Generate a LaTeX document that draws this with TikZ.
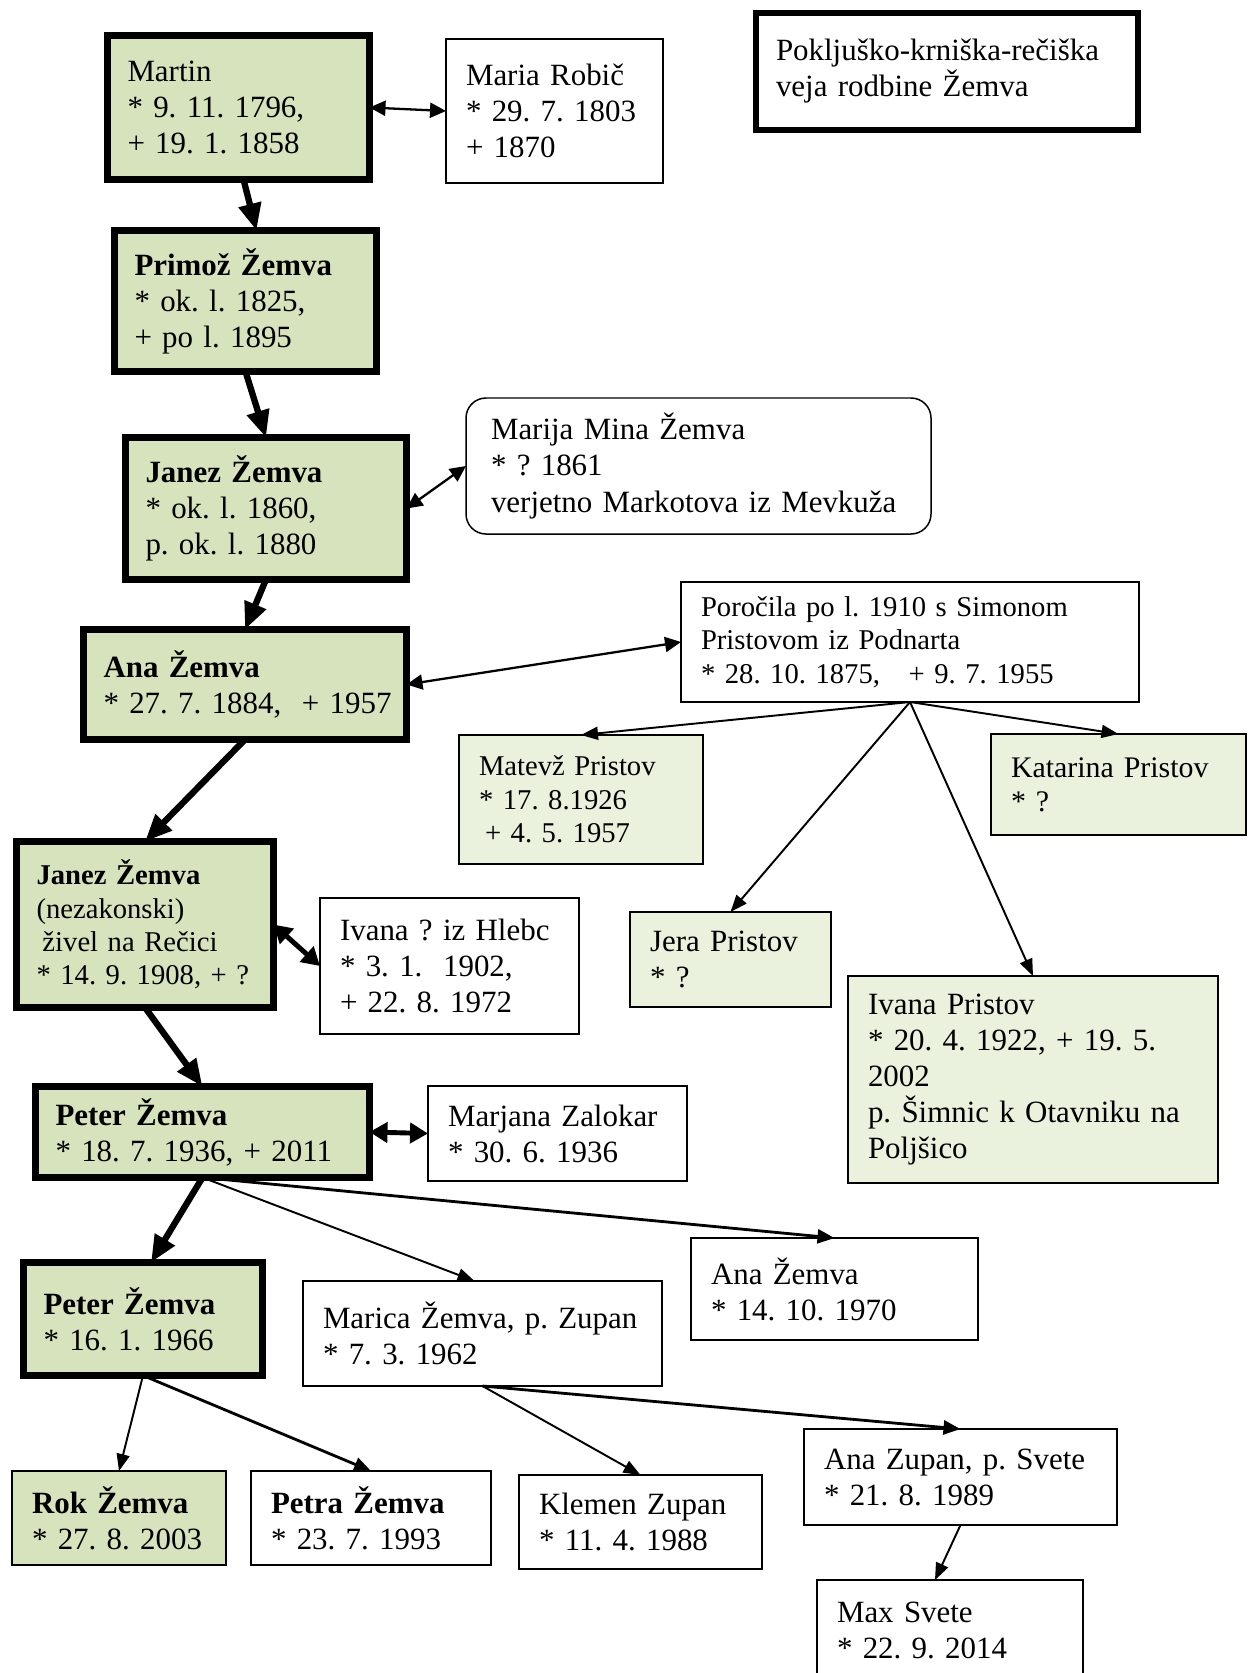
\documentclass[tikz,border=0pt]{standalone}
\usepackage{fontspec}
\setmainfont{Liberation Serif}
\usetikzlibrary{arrows.meta}
\definecolor{olivelight}{RGB}{214,227,188}
\definecolor{olivepale}{RGB}{234,241,221}
\frenchspacing
\hyphenpenalty=10000
\exhyphenpenalty=10000

\begin{document}
\begin{tikzpicture}[
        box/.style={draw,line width=0.85pt,anchor=north west,align=left,inner xsep=0.4cm,inner ysep=0.1cm,outer sep=0pt,font=\fontsize{17.6}{20.5}\selectfont},
        main/.style={box,fill=olivelight,line width=4pt},
        kid/.style={box,fill=olivepale},
        small/.style={font=\fontsize{16.3}{19}\selectfont},
        arrow/.style={-{Triangle[length=0.34cm,width=0.26cm]},line width=1.1pt},
        medarrow/.style={-{Triangle[length=0.34cm,width=0.28cm]},line width=1.6pt},
        bigarrow/.style={-{Triangle[length=0.54cm,width=0.44cm]},line width=3.6pt},
        pair/.style={{Triangle[length=0.32cm,width=0.3cm]}-{Triangle[length=0.32cm,width=0.3cm]},line width=1.3pt},
        bigpair/.style={{Triangle[length=0.36cm,width=0.4cm]}-{Triangle[length=0.36cm,width=0.4cm]},line width=2.8pt}
    ]
        \useasboundingbox (0,0) rectangle (24.96,-33.46);

        % Title
        \node[box,line width=3.4pt,text width=6.84cm,minimum height=2.34cm] (title) at (15.12,-0.26) {Pokljuško-krniška-rečiška\\veja rodbine Žemva};

        % Martin
        \node[main,text width=4.44cm,minimum height=2.88cm] (martin) at (2.15,-0.71) {Martin\\{}* 9. 11. 1796,\\+ 19. 1. 1858};
        \node[box,text width=3.54cm,minimum height=2.88cm] (maria) at (8.92,-0.78) {Maria Robič\\{}* 29. 7. 1803\\+ 1870};

        % Primoz
        \node[main,text width=4.44cm,minimum height=2.82cm] (primoz) at (2.29,-4.61) {\textbf{Primož Žemva}\\{}* ok. l. 1825,\\+ po l. 1895};

        % Janez (1860)
        \node[main,text width=4.82cm,minimum height=2.84cm] (janez1) at (2.51,-8.75) {\textbf{Janez Žemva}\\{}* ok. l. 1860,\\p. ok. l. 1880};
        \node[box,rounded corners=0.4cm,inner xsep=0.5cm,text width=8.3cm,minimum height=2.72cm] (marija) at (9.32,-7.96) {Marija Mina Žemva\\{}* ? 1861\\verjetno Markotova iz Mevkuža};

        % Ana
        \node[main,text width=5.66cm,minimum height=2.2cm] (ana) at (1.67,-12.59) {\textbf{Ana Žemva}\\{}*~27.~7.~1884,~~+~1957};
        \node[box,small,text width=8.36cm,minimum height=2.4cm] (porocila) at (13.62,-11.64) {Poročila po l. 1910 s Simonom\\Pristovom iz Podnarta\\{}* 28. 10. 1875,~~~+ 9. 7. 1955};

        % Pristov children
        \node[kid,small,text width=4.08cm,minimum height=2.58cm] (matevz) at (9.18,-14.70) {Matevž Pristov\\{}* 17. 8.1926\\\hspace*{0.12cm}+ 4. 5. 1957};
        \node[kid,font=\fontsize{17}{19.5}\selectfont,text width=4.3cm,minimum height=2.02cm] (katarina) at (19.82,-14.68) {Katarina~Pristov\\{}* ?};
        \node[kid,text width=3.22cm,minimum height=1.9cm] (jera) at (12.60,-18.24) {Jera Pristov\\{}* ?};
        \node[kid,text width=6.6cm,minimum height=4.14cm] (ivanap) at (16.96,-19.52) {Ivana Pristov\\{}*~20.~4.~1922,~+~19.~5.\\2002\\p.~Šimnic~k~Otavniku~na\\Poljšico};

        % Janez (1908)
        \node[main,small,text width=4.34cm,minimum height=3.32cm] (janez2) at (0.33,-16.83) {\textbf{Janez Žemva}\\(nezakonski)\\\hspace*{0.12cm}živel na Rečici\\{}*~14.~9.~1908,~+~?};
        \node[box,text width=4.38cm,minimum height=2.72cm] (ivanah) at (6.40,-17.96) {Ivana~?~iz~Hlebc\\{}* 3. 1.~~1902,\\+ 22. 8. 1972};

        % Peter (1936)
        \node[main,text width=5.88cm,minimum height=1.82cm] (peter1) at (0.71,-21.73) {\textbf{Peter Žemva}\\{}*~18.~7.~1936,~+~2011};
        \node[box,text width=4.38cm,minimum height=1.9cm] (marjana) at (8.56,-21.72) {Marjana~Zalokar\\{}* 30. 6. 1936};

        % Children of Peter
        \node[main,text width=3.98cm,minimum height=2.26cm] (peter2) at (0.47,-25.25) {\textbf{Peter Žemva}\\{}* 16. 1. 1966};
        \node[box,text width=6.38cm,minimum height=2.1cm] (marica) at (6.06,-25.62) {Marica~Žemva,~p.~Zupan\\{}* 7. 3. 1962};
        \node[box,text width=4.94cm,minimum height=2.04cm] (ana2) at (13.82,-24.76) {Ana Žemva\\{}* 14. 10. 1970};

        % Grandchildren
        \node[box,fill=olivelight,line width=1.1pt,text width=3.48cm,minimum height=1.88cm] (rok) at (0.24,-29.42) {\textbf{Rok Žemva}\\{}*~27.~8.~2003};
        \node[box,text width=4.0cm,minimum height=1.88cm] (petra) at (5.02,-29.42) {\textbf{Petra Žemva}\\{}* 23. 7. 1993};
        \node[box,text width=4.06cm,minimum height=1.88cm] (klemen) at (10.38,-29.50) {Klemen Zupan\\{}* 11. 4. 1988};
        \node[box,text width=5.46cm,minimum height=1.92cm] (anazupan) at (16.08,-28.58) {Ana~Zupan,~p.~Svete\\{}* 21. 8. 1989};
        \node[box,text width=4.52cm,minimum height=2.0cm] (max) at (16.34,-31.60) {Max Svete\\{}* 22. 9. 2014};

        % Arrows
        \draw[pair] (martin.east) -- (maria.west);
        \draw[bigarrow] ([xshift=0.1cm]martin.south) -- ([xshift=0.22cm]primoz.north);
        \draw[bigarrow] (primoz.south) -- (janez1.north);
        \draw[pair] (janez1.east) -- (marija.west);
        \draw[bigarrow] (janez1.south) -- (ana.north);
        \draw[pair] (ana.east) -- (porocila.west);
        \draw[bigarrow] (ana.south) -- (janez2.north);
        \draw[arrow] (porocila.south) -- (matevz.north);
        \draw[arrow] (porocila.south) -- (katarina.north);
        \draw[arrow] (porocila.south) -- (jera.north);
        \draw[arrow] (porocila.south) -- (ivanap.north);
        \draw[bigpair] (janez2.east) -- (ivanah.west);
        \draw[bigarrow] (janez2.south) -- (peter1.north);
        \draw[bigpair] (peter1.east) -- (marjana.west);
        \draw[bigarrow] (peter1.south) -- ([xshift=0.16cm]peter2.north);
        \draw[arrow] (peter1.south) -- ([xshift=-0.16cm]marica.north);
        \draw[medarrow] (peter1.south) -- (ana2.north);
        \draw[arrow] (peter2.south) -- (rok.north);
        \draw[medarrow] (peter2.south) -- (petra.north);
        \draw[arrow] (marica.south) -- (klemen.north);
        \draw[medarrow] (marica.south) -- (anazupan.north);
        \draw[arrow] (anazupan.south) -- ([xshift=-0.3cm]max.north);
    \end{tikzpicture}
\end{document}
